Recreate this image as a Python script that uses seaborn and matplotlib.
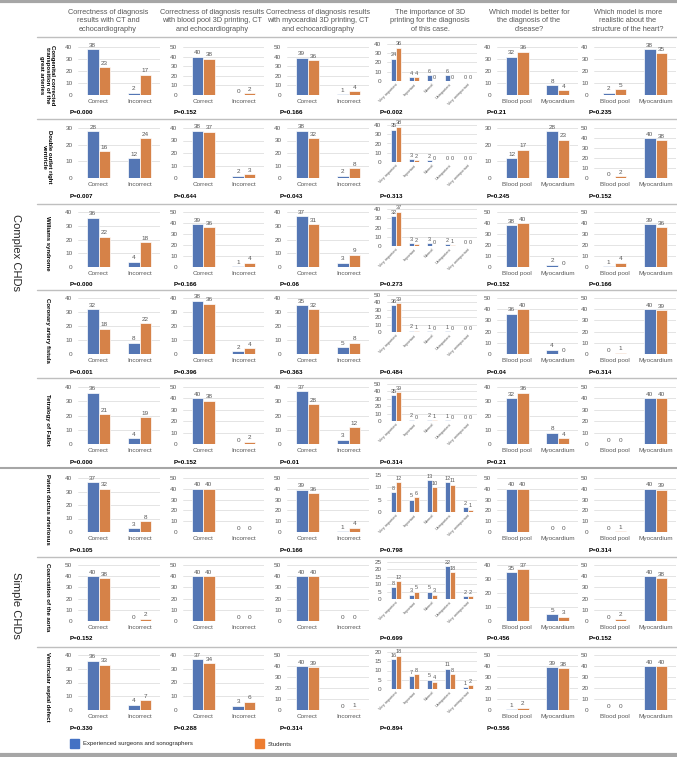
import numpy as np
import pandas as pd
import seaborn as sns
import matplotlib.pyplot as plt
from matplotlib.lines import Line2D
from matplotlib.patches import Rectangle

# ---- data ----
row_labels = ["Congenital corrected\ntransposition of the\ngreat arteries",
              "Double outlet right\nventricle",
              "Williams syndrome",
              "Coronary artery fistula",
              "Tetralogy of Fallot",
              "Patent ductus arteriosus",
              "Coarctation of the aorta",
              "Ventricular septal defect"]
col_titles = ["Correctness of diagnosis\nresults with CT and\nechocardiography",
              "Correctness of diagnosis results\nwith blood pool 3D printing, CT\nand echocardiography",
              "Correctness of diagnosis results\nwith myocardial 3D printing, CT\nand echocardiography",
              "The importance of 3D\nprinting for the diagnosis\nof this case.",
              "Which model is better for\nthe diagnosis of the\ndisease?",
              "Which model is more\nrealistic about the\nstructure of the heart?"]
groups = ["Experienced surgeons and sonographers", "Students"]
answer_cats = ["Correct", "Incorrect"]
importance_cats = ["Very important", "Important", "Normal", "Unimportant", "Very unimportant"]
model_cats = ["Blood pool", "Myocardium"]

ct_exp = [[38, 2], [28, 12], [36, 4], [32, 8], [36, 4], [37, 3], [40, 0], [36, 4]]
ct_stu = [[23, 17], [16, 24], [22, 18], [18, 22], [21, 19], [32, 8], [38, 2], [33, 7]]
p_ct = ["0.000", "0.007", "0.000", "0.001", "0.000", "0.105", "0.152", "0.330"]

bp_exp = [[40, 0], [38, 2], [39, 1], [38, 2], [40, 0], [40, 0], [40, 0], [37, 3]]
bp_stu = [[38, 2], [37, 3], [36, 4], [36, 4], [38, 2], [40, 0], [40, 0], [34, 6]]
p_bp = ["0.152", "0.644", "0.166", "0.396", "0.152", None, None, "0.288"]

myo_exp = [[39, 1], [38, 2], [37, 3], [35, 5], [37, 3], [39, 1], [40, 0], [40, 0]]
myo_stu = [[36, 4], [32, 8], [31, 9], [32, 8], [28, 12], [36, 4], [40, 0], [39, 1]]
p_myo = ["0.166", "0.043", "0.06", "0.363", "0.01", "0.166", None, "0.314"]

imp_exp = [[24, 4, 6, 6, 0], [35, 3, 2, 0, 0], [32, 3, 3, 2, 0], [36, 2, 1, 1, 0],
           [35, 2, 2, 1, 0], [8, 5, 13, 12, 2], [8, 3, 5, 22, 2], [16, 7, 5, 11, 1]]
imp_stu = [[36, 4, 0, 0, 0], [38, 2, 0, 0, 0], [37, 2, 0, 1, 0], [39, 1, 0, 0, 0],
           [39, 0, 1, 0, 0], [12, 6, 10, 11, 1], [12, 5, 3, 18, 2], [18, 8, 4, 8, 2]]
p_imp = ["0.002", "0.313", "0.273", "0.484", "0.314", "0.798", "0.699", "0.894"]

better_exp = [[32, 8], [12, 28], [38, 2], [36, 4], [32, 8], [40, 0], [35, 5], [1, 39]]
better_stu = [[36, 4], [17, 23], [40, 0], [40, 0], [36, 4], [40, 0], [37, 3], [2, 38]]
p_better = ["0.21", "0.245", "0.152", "0.04", "0.21", None, "0.456", "0.556"]

real_exp = [[2, 38], [0, 40], [1, 39], [0, 40], [0, 40], [0, 40], [0, 40], [0, 40]]
real_stu = [[5, 35], [2, 38], [4, 36], [1, 39], [0, 40], [1, 39], [2, 38], [0, 40]]
p_real = ["0.235", "0.152", "0.166", "0.314", None, "0.314", "0.152", None]

columns = [(answer_cats, ct_exp, ct_stu, p_ct),
           (answer_cats, bp_exp, bp_stu, p_bp),
           (answer_cats, myo_exp, myo_stu, p_myo),
           (importance_cats, imp_exp, imp_stu, p_imp),
           (model_cats, better_exp, better_stu, p_better),
           (model_cats, real_exp, real_stu, p_real)]

# ---- style / layout ----
BLUE, ORANGE = "#4472C4", "#ED7D31"
GREY = "#595959"
sns.set_theme(style="white")
plt.rcParams['font.family'] = ['Liberation Sans', 'DejaVu Sans']

W, H = 677, 757
fig = plt.figure(figsize=(W / 100, H / 100), dpi=100)


def fbox(x0, y0, x1, y1):
    return [x0 / W, 1 - y1 / H, (x1 - x0) / W, (y1 - y0) / H]


def fx(x):
    return x / W


def fy(y):
    return 1 - y / H


def nice_top(m):
    # excel-like automatic axis maximum
    step = 5 if m * 1.05 <= 25 else 10
    return int(np.ceil(m * 1.05 / step) * step), step


row_top = [47, 128, 212, 298, 387, 478, 565, 655]
row_bot = [95, 178, 267, 354, 444, 532, 621, 710]
col_x = [(78, 160), (183, 264), (287, 369), (387, 477), (497, 578), (594, 676)]
p_x = [70, 174, 280, 380, 487, 589]
title_x = [108, 212, 318, 430, 529, 628]

for c, (cats, exp, stu, pvals) in enumerate(columns):
    fig.text(fx(title_x[c]), fy(21), col_titles[c], ha="center", va="center",
             fontsize=5.3, color=GREY, linespacing=1.35)
    for r in range(len(row_labels)):
        x0, x1 = col_x[c]
        if c == 3:
            y0, y1 = row_top[r] - 3, row_top[r] + 34
        else:
            y0, y1 = row_top[r], row_bot[r]
        ax = fig.add_axes(fbox(x0, y0, x1, y1))
        n = len(cats)
        df = pd.DataFrame({"answer": cats * 2,
                           "count": exp[r] + stu[r],
                           "group": [groups[0]] * n + [groups[1]] * n})
        sns.barplot(data=df, x="answer", y="count", hue="group",
                    palette=[BLUE, ORANGE], width=0.56, edgecolor="white",
                    linewidth=0.5, legend=False, ax=ax)
        for cont in ax.containers:
            ax.bar_label(cont, fontsize=4.0 if c == 3 else 4.6, color=GREY, padding=1)
        top, step = nice_top(max(exp[r] + stu[r]))
        ax.set_ylim(0, top)
        ax.set_yticks(range(0, top + 1, step))
        ax.yaxis.grid(True, color="#d9d9d9", linewidth=0.5)
        ax.set_axisbelow(True)
        for s in ax.spines.values():
            s.set_visible(False)
        ax.set_xlabel("")
        ax.set_ylabel("")
        ax.tick_params(axis="both", length=0, colors=GREY)
        ax.tick_params(axis="y", labelsize=4.6, pad=4)
        if c == 3:
            ax.tick_params(axis="x", labelsize=2.8, pad=1)
            for lab in ax.get_xticklabels():
                lab.set_rotation(45)
                lab.set_ha("right")
                lab.set_rotation_mode("anchor")
        else:
            ax.tick_params(axis="x", labelsize=4.6, pad=3)
        if pvals[r] is not None:
            fig.text(fx(p_x[c]), fy(row_bot[r] + 18), "P=" + pvals[r],
                     fontsize=4.5, weight="bold", color="black", va="center")

# row labels
for r, lab in enumerate(row_labels):
    yc = (row_top[r] + row_bot[r]) / 2 + 4
    fig.text(fx(47), fy(yc), lab, rotation=-90, ha="center", va="center",
             fontsize=4.3, weight="bold", color="black", linespacing=1.2)

# group labels
fig.text(fx(16), fy(252), "Complex CHDs", rotation=-90, ha="center", va="center",
         fontsize=8, color="#262626")
fig.text(fx(16), fy(605), "Simple CHDs", rotation=-90, ha="center", va="center",
         fontsize=8, color="#262626")

# separators
fig.add_artist(Line2D([0, 1], [fy(1), fy(1)], color="#a6a6a6", lw=3))
fig.add_artist(Line2D([0, 1], [fy(755), fy(755)], color="#a6a6a6", lw=3))
fig.add_artist(Line2D([fx(37), 1], [fy(37), fy(37)], color="#bfbfbf", lw=1))
for y in [119, 204, 290, 378, 557, 647]:
    fig.add_artist(Line2D([fx(37), 1], [fy(y), fy(y)], color="#bfbfbf", lw=1))
fig.add_artist(Line2D([0, 1], [fy(468), fy(468)], color="#a6a6a6", lw=1.5))

# legend
fig.add_artist(Rectangle((fx(70), fy(748)), 9 / W, 9 / H, color=BLUE))
fig.text(fx(83), fy(744), groups[0], fontsize=4.3, color="#262626", va="center")
fig.add_artist(Rectangle((fx(255), fy(748)), 9 / W, 9 / H, color=ORANGE))
fig.text(fx(268), fy(744), groups[1], fontsize=4.3, color="#262626", va="center")

fig.savefig("out.png", dpi=100)
